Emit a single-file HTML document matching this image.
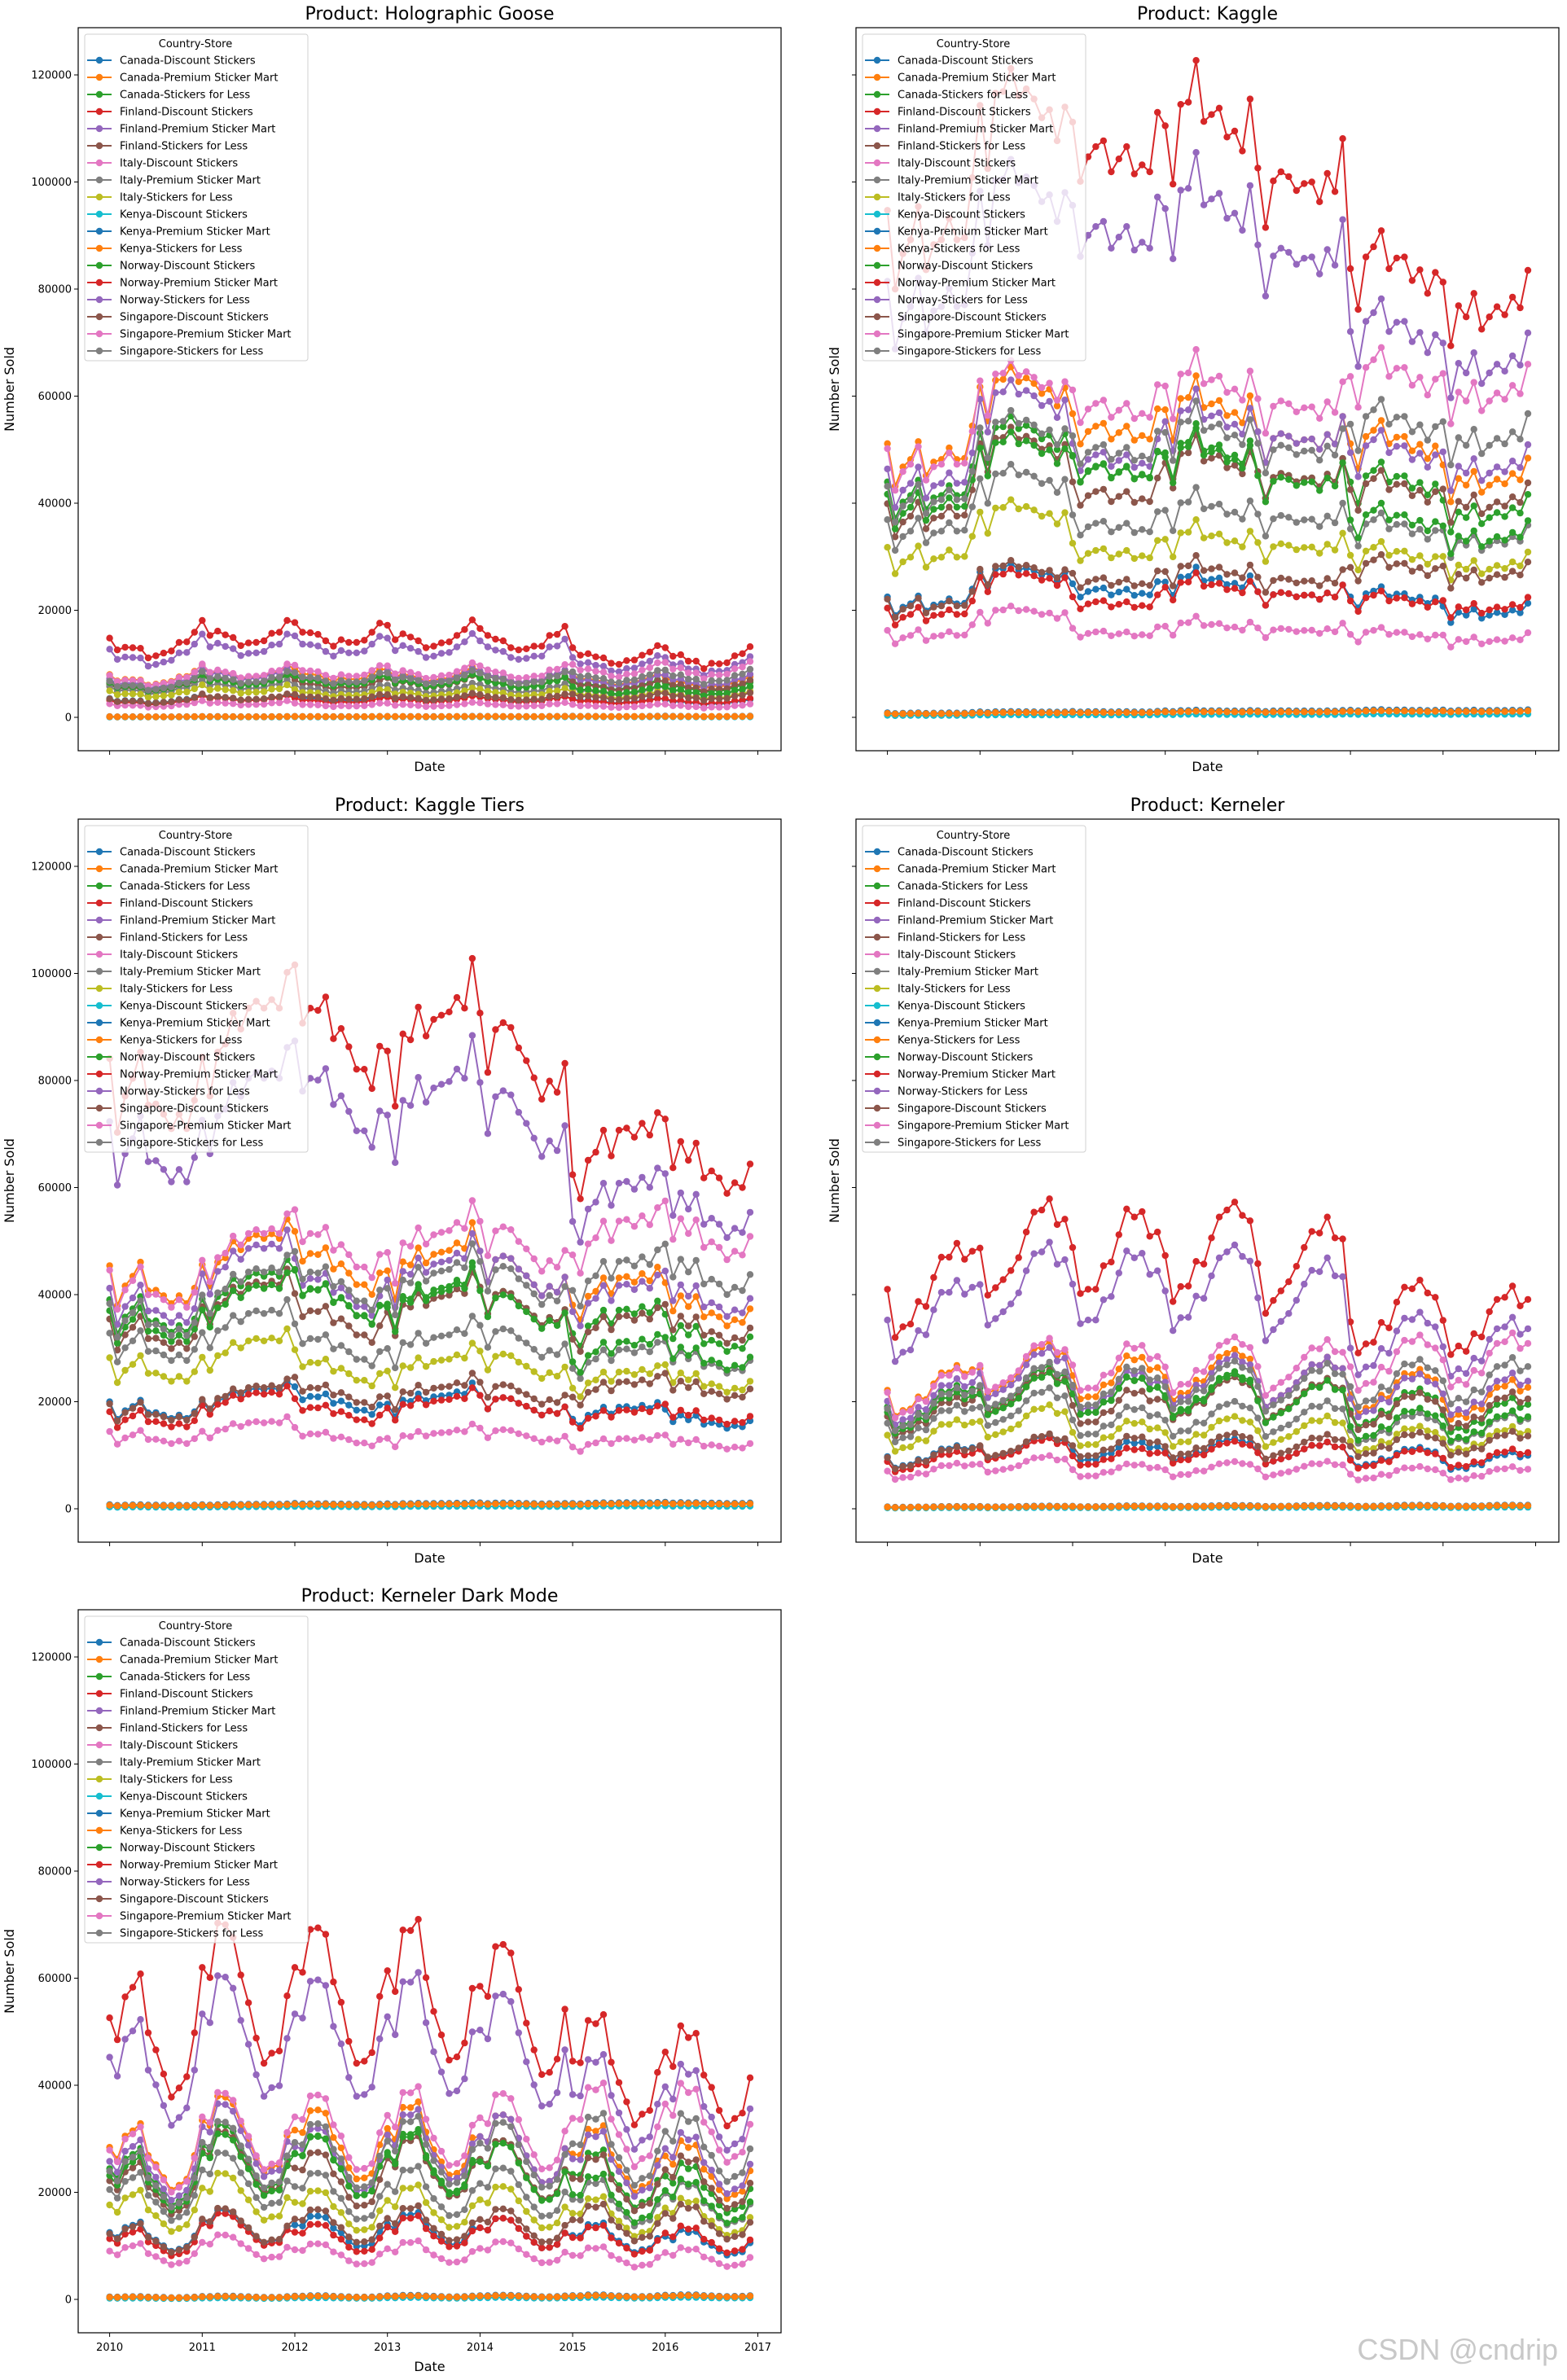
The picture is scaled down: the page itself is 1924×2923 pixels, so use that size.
<!DOCTYPE html>
<html><head><meta charset="utf-8"><style>
html,body{margin:0;padding:0;background:#fff;}
svg{display:block;}
text{font-family:"DejaVu Sans","Liberation Sans",sans-serif;}
</style></head><body>
<svg id="fig" width="1924" height="2923" viewBox="0 0 1924 2923" xmlns="http://www.w3.org/2000/svg">
<rect width="1924" height="2923" fill="#fff"/>
<text x="1913" y="2898" text-anchor="end" font-size="36" fill="#c8c8c8" style="font-family:'Liberation Sans',sans-serif">CSDN @cndrip</text>
</svg>
<script>
// ---- data ----
const productNames = ['Holographic Goose','Kaggle','Kaggle Tiers','Kerneler','Kerneler Dark Mode'];
const countries = ['Canada','Finland','Italy','Kenya','Norway','Singapore'];
const stores = ['Discount Stickers','Premium Sticker Mart','Stickers for Less'];
const storeFactor = [0.44, 1, 0.86];
const yearLabels = ['2010','2011','2012','2013','2014','2015','2016','2017'];
const yTickValues = [0,20000,40000,60000,80000,100000,120000];
// country level relative to Norway, per year 2010..2016
const canadaRatio = [0.54,0.54,0.51,0.52,0.52,0.61,0.58];
const finlandRatio = [0.49,0.52,0.46,0.50,0.52,0.59,0.61];
const italyRatio = [0.39,0.39,0.34,0.35,0.37,0.42,0.43];
const kenyaRatio = [0.009,0.009,0.010,0.011,0.012,0.016,0.017];
const norwayRatio = [1,1,1,1,1,1,1];
const singaporeRatio = [0.53,0.55,0.55,0.56,0.58,0.76,0.79];
// Norway-Premium Sticker Mart monthly sales (thousands), 2010-01..2016-12
const holoBase_k = [14.8,12.6,13.1,13.0,12.9,11.1,11.5,12.0,12.4,14.0,14.1,15.9,18.1,15.3,16.1,15.4,14.9,13.4,13.9,14.0,14.3,15.7,15.9,18.1,17.7,15.9,15.8,15.5,14.3,13.3,14.5,14.0,14.0,14.4,15.9,17.6,17.2,14.5,15.6,15.0,14.3,13.0,13.3,13.9,14.1,15.3,16.4,18.2,16.6,15.3,14.6,14.3,13.0,12.6,12.8,13.3,13.3,15.3,15.5,17.0,13.0,11.6,11.9,11.3,11.1,10.1,9.9,10.6,10.7,11.6,12.2,13.4,13.0,11.4,11.7,10.5,10.5,9.1,10.1,10.0,10.2,11.5,11.9,13.2];
const kaggleBase_k = [94.7,80.0,86.6,89.2,95.4,83.6,88.3,89.2,93.2,89.2,89.6,100.8,114.3,102.5,116.6,116.9,121.2,116.1,117.4,115.5,112.0,113.5,107.7,114.0,111.2,100.1,104.7,106.6,107.7,101.9,104.3,106.6,101.5,103.2,101.9,113.0,110.5,99.6,114.5,114.9,122.7,111.3,112.6,113.8,108.4,109.5,105.8,115.5,102.6,91.5,100.2,101.9,101.0,98.4,99.7,100.0,96.3,101.6,98.2,108.1,83.8,76.2,86.0,87.9,90.9,83.8,85.8,86.0,81.6,83.6,79.2,83.1,81.3,69.4,76.9,74.8,79.2,72.5,74.8,76.7,75.2,78.5,76.5,83.5];
const tiersBase_k = [84.1,70.3,77.1,80.4,85.3,75.4,75.6,73.7,71.0,73.7,71.0,76.3,84.4,77.1,85.3,86.8,92.6,89.6,93.5,94.8,93.5,95.1,93.5,100.2,101.6,90.7,93.5,93.1,95.6,87.8,89.7,86.3,82.1,82.1,78.5,86.4,85.5,75.2,88.7,87.6,93.7,88.3,91.4,92.2,92.8,95.5,93.5,102.8,92.6,81.5,89.5,90.8,89.9,86.1,83.7,80.5,76.5,79.9,77.8,83.2,62.4,57.9,65.1,66.6,70.7,65.9,70.7,71.1,69.4,72.0,69.8,74.0,72.8,63.7,68.6,65.1,68.3,61.8,63.1,61.8,58.9,60.9,60.0,64.4];
const kernelerBase_k = [41.0,32.0,34.0,34.5,38.7,37.8,43.2,47.0,47.0,49.6,46.6,48.1,48.7,39.9,41.3,42.8,44.5,46.9,51.7,55.4,55.8,57.9,53.1,54.1,48.8,40.2,41.0,41.0,45.4,46.1,51.2,56.0,54.5,55.5,50.9,51.7,47.3,38.7,41.5,41.6,46.2,45.7,50.6,54.5,55.8,57.3,54.8,53.8,45.8,36.5,38.9,40.7,42.4,45.3,48.8,51.8,51.5,54.5,50.6,50.4,34.9,29.1,30.8,31.1,34.8,33.8,38.6,41.4,41.1,42.7,40.3,39.5,35.2,28.8,30.4,29.4,32.7,32.1,36.8,39.1,39.5,41.6,37.9,39.1];
const darkBase_k = [52.6,48.5,56.5,58.3,60.8,49.8,46.6,42.1,37.8,39.5,41.6,49.8,62.0,60.1,70.3,70.0,67.6,60.6,55.4,48.8,44.1,46.0,46.4,56.7,62.0,61.1,69.1,69.4,68.2,59.3,55.5,48.2,44.1,44.5,46.1,56.6,61.4,57.5,69.0,68.9,71.0,60.1,53.8,49.4,44.7,45.3,47.9,58.1,58.5,56.6,65.9,66.3,64.7,57.9,51.6,46.6,42.0,42.4,44.9,54.2,44.5,44.2,52.1,51.5,53.2,44.3,40.5,36.9,32.6,34.6,35.3,42.4,46.2,43.5,51.1,48.9,49.7,41.9,39.6,35.3,32.4,33.8,34.8,41.4];
</script>
<script>
const NS='http://www.w3.org/2000/svg';
const svg=document.getElementById('fig');
const colors=['#1f77b4','#ff7f0e','#2ca02c','#d62728','#9467bd','#8c564b','#e377c2','#7f7f7f','#bcbd22','#17becf'];
const bases=[holoBase_k,kaggleBase_k,tiersBase_k,kernelerBase_k,darkBase_k];
const ratios=[canadaRatio,finlandRatio,italyRatio,kenyaRatio,norwayRatio,singaporeRatio];
const panels=[{x0:96,y0:34,left:true,bottom:false},{x0:1051,y0:34,left:false,bottom:false},{x0:96,y0:1006,left:true,bottom:false},{x0:1051,y0:1006,left:false,bottom:false},{x0:96,y0:1977,left:true,bottom:true}];
const W=863,H=888;
function mk(tag,attrs,parent){const e=document.createElementNS(NS,tag);for(const k in attrs)e.setAttribute(k,attrs[k]);(parent||svg).appendChild(e);return e;}
function slug(s){return s.toLowerCase().replace(/[^a-z0-9]+/g,'-').replace(/(^-|-$)/g,'');}

panels.forEach((p,pi)=>{
  const g=mk('g',{});
  
  
  const xs=t=>p.x0+38.6+(t-2010)*113.7;
  const ys=v=>p.y0+847-v/20000*131.5;
  const tt=mk('text',{x:p.x0+W/2,y:p.y0-10,'text-anchor':'middle','font-size':22},g);
  
  
  tt.textContent='Product: '+productNames[pi];
  const base=bases[pi];
  const sg=mk('g',{},g);
  
  
  let si=0;
  countries.forEach((c,ci)=>{stores.forEach((s,st)=>{
    const col=colors[si%10];
    const vals=base.map((b,i)=>b*1000*ratios[ci][Math.floor(i/12)]*storeFactor[st]);
    const pts=vals.map((v,i)=>xs(2010+i/12).toFixed(1)+','+ys(v).toFixed(1)).join(' ');
    const ln=mk('polyline',{points:pts,fill:'none',stroke:col,'stroke-width':2,'stroke-linejoin':'round'},sg);
    
    
    vals.forEach((v,i)=>{
      const m=mk('circle',{cx:xs(2010+i/12).toFixed(1),cy:ys(v).toFixed(1),r:4.2,fill:col},sg);
      
      
    });
    si++;
  });});
  const fr=mk('rect',{x:p.x0,y:p.y0,width:W,height:H,fill:'none',stroke:'#000','stroke-width':1.2},g);
  
  
  yTickValues.forEach(v=>{
    const y=ys(v);
    const tk=mk('line',{x1:p.x0-5,x2:p.x0,y1:y,y2:y,stroke:'#000','stroke-width':1},g);
    
    
    if(p.left){
      const tl=mk('text',{x:p.x0-8,y:y+4.5,'text-anchor':'end','font-size':13},g);
      
      
      tl.textContent=String(v);
    }
  });
  yearLabels.forEach(yl=>{
    const x=xs(+yl);
    const tk=mk('line',{x1:x,x2:x,y1:p.y0+H,y2:p.y0+H+5,stroke:'#000','stroke-width':1},g);
    
    
    if(p.bottom){
      const tl=mk('text',{x:x,y:p.y0+H+22,'text-anchor':'middle','font-size':13},g);
      
      
      tl.textContent=yl;
    }
  });
  const xl=mk('text',{x:p.x0+W/2,y:p.bottom?p.y0+H+47:p.y0+H+25,'text-anchor':'middle','font-size':16},g);
  
  
  xl.textContent='Date';
  const ylx=p.left?p.x0-79:p.x0-21;
  const yl=mk('text',{x:ylx,y:p.y0+H/2,'text-anchor':'middle','font-size':16,transform:'rotate(-90 '+ylx+' '+(p.y0+H/2)+')'},g);
  
  
  yl.textContent='Number Sold';
  const lg=mk('g',{},g);
  
  
  const lx=p.x0+8,ly=p.y0+8;
  mk('rect',{x:lx,y:ly,width:274,height:401,rx:3,fill:'#fff','fill-opacity':0.8,stroke:'#d0d0d0','stroke-width':1},lg);
  const lt=mk('text',{x:lx+136,y:ly+16,'text-anchor':'middle','font-size':13},lg);
  
  
  lt.textContent='Country-Store';
  let k=0;
  countries.forEach(c=>{stores.forEach(s=>{
    const cy=ly+32+k*21;
    const col=colors[k%10];
    const eg=mk('g',{},lg);
    
    
    mk('line',{x1:lx+3,x2:lx+33,y1:cy,y2:cy,stroke:col,'stroke-width':2},eg);
    mk('circle',{cx:lx+18,cy:cy,r:4.2,fill:col},eg);
    const et=mk('text',{x:lx+43,y:cy+4.5,'font-size':13},eg);
    et.textContent=c+'-'+s;
    k++;
  });});
});
</script>
</body></html>
